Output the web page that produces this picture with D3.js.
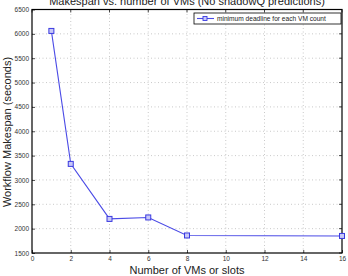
<!DOCTYPE html>
<html>
<head>
<meta charset="utf-8">
<script src="https://cdn.jsdelivr.net/npm/d3@7"></script>
<style>
  body { margin: 0; background: #fff; }
  text { font-family: "Liberation Sans", Arial, sans-serif; }
</style>
</head>
<body>
<script>
var width = 348, height = 276;
var vms = [1, 2, 4, 6, 8, 16];
var makespan = [6060, 3330, 2200, 2230, 1860, 1850];
var xTicks = [0, 2, 4, 6, 8, 10, 12, 14, 16];
var yTicks = [1500, 2000, 2500, 3000, 3500, 4000, 4500, 5000, 5500, 6000, 6500];
var legendLabel = "minimum deadline for each VM count";

var m = {left: 32, right: 6, top: 9.5, bottom: 23};

var svg = d3.select("body").append("svg")
    .attr("width", width)
    .attr("height", height);

var x = d3.scaleLinear().domain([0, 16]).range([m.left, width - m.right]);
var y = d3.scaleLinear().domain([1500, 6500]).range([height - m.bottom, m.top]);

// grid
svg.append("g").selectAll("line")
    .data(xTicks.slice(1, -1))
    .enter().append("line")
      .attr("x1", d => x(d)).attr("x2", d => x(d))
      .attr("y1", y(1500)).attr("y2", y(6500))
      .attr("stroke", "#bbb").attr("stroke-width", 0.8)
      .attr("stroke-dasharray", "1,2.5");
svg.append("g").selectAll("line")
    .data(yTicks.slice(1, -1))
    .enter().append("line")
      .attr("y1", d => y(d)).attr("y2", d => y(d))
      .attr("x1", x(0)).attr("x2", x(16))
      .attr("stroke", "#bbb").attr("stroke-width", 0.8)
      .attr("stroke-dasharray", "1,2.5");

// axes
var xAxis = svg.append("g")
    .attr("transform", `translate(0,${y(1500)})`)
    .call(d3.axisBottom(x).tickValues(xTicks).tickSize(-3).tickPadding(3).tickFormat(d3.format("d")));
var yAxis = svg.append("g")
    .attr("transform", `translate(${x(0)},0)`)
    .call(d3.axisLeft(y).tickValues(yTicks).tickSize(-3).tickPadding(3).tickFormat(d3.format("d")));
[xAxis, yAxis].forEach(a => {
  a.select(".domain").remove();
  a.selectAll("line").attr("stroke", "#000").attr("stroke-width", 0.7);
  a.selectAll("text").attr("font-size", 6.5).attr("fill", "#333")
    .attr("font-family", "Liberation Sans, Arial, sans-serif");
});
// top/right ticks
svg.append("g").selectAll("line").data(xTicks).enter().append("line")
    .attr("x1", d => x(d)).attr("x2", d => x(d))
    .attr("y1", y(6500)).attr("y2", y(6500) + 3)
    .attr("stroke", "#000").attr("stroke-width", 0.7);
svg.append("g").selectAll("line").data(yTicks).enter().append("line")
    .attr("y1", d => y(d)).attr("y2", d => y(d))
    .attr("x1", x(16)).attr("x2", x(16) - 3)
    .attr("stroke", "#000").attr("stroke-width", 0.7);

svg.append("rect")
    .attr("x", x(0)).attr("y", y(6500))
    .attr("width", x(16) - x(0)).attr("height", y(1500) - y(6500))
    .attr("fill", "none").attr("stroke", "#000").attr("stroke-width", 1.2);

// line
var pts = vms.map((v, i) => [v, makespan[i]]);
var line = d3.line().x(d => x(d[0])).y(d => y(d[1]));
svg.append("path")
    .datum(pts)
    .attr("d", line)
    .attr("fill", "none")
    .attr("stroke", "#4b4be6")
    .attr("stroke-width", 1.1);
svg.append("g").selectAll("rect")
    .data(pts)
    .enter().append("rect")
      .attr("x", d => x(d[0]) - 2.5).attr("y", d => y(d[1]) - 2.5)
      .attr("width", 5).attr("height", 5)
      .attr("fill", "#c8c8f8").attr("stroke", "#3a3ae0").attr("stroke-width", 1);

// legend
var lg = svg.append("g").attr("transform", "translate(194,13)");
lg.append("rect").attr("width", 147).attr("height", 11)
    .attr("fill", "#fff").attr("stroke", "#000").attr("stroke-width", 0.8);
lg.append("line").attr("x1", 3).attr("x2", 20).attr("y1", 5.5).attr("y2", 5.5)
    .attr("stroke", "#4b4be6").attr("stroke-width", 1.1);
lg.append("rect").attr("x", 9).attr("y", 3.5).attr("width", 4).attr("height", 4)
    .attr("fill", "#c8c8f8").attr("stroke", "#3a3ae0").attr("stroke-width", 0.9);
lg.append("text").attr("x", 23).attr("y", 8)
    .attr("font-size", 6.6).attr("fill", "#222")
    .text(legendLabel);

// titles
svg.append("text")
    .attr("x", 187).attr("y", 5)
    .attr("text-anchor", "middle").attr("font-size", 11).attr("fill", "#222")
    .text("Makespan vs. number of VMs (No shadowQ predictions)");
svg.append("text")
    .attr("x", 187).attr("y", 274)
    .attr("text-anchor", "middle").attr("font-size", 11).attr("fill", "#222")
    .text("Number of VMs or slots");
svg.append("text")
    .attr("transform", "translate(11,132) rotate(-90)")
    .attr("text-anchor", "middle").attr("font-size", 11).attr("fill", "#222")
    .text("Workflow Makespan (seconds)");
</script>
</body>
</html>
